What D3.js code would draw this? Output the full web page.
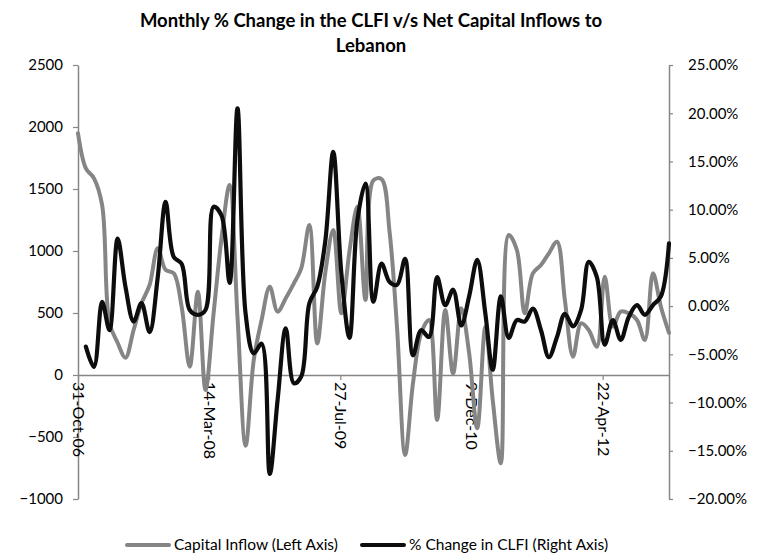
<!DOCTYPE html>
<html>
<head>
<meta charset="utf-8">
<script src="https://cdn.jsdelivr.net/npm/d3@7"></script>
<style>
  html, body { margin: 0; padding: 0; background: #fff; }
  svg { display: block; }
  text { font-family: "Lato", "Liberation Sans", sans-serif; fill: #000; }
</style>
</head>
<body>
<svg id="chart" width="758" height="554"></svg>
<script>
// ---------------- DATA ----------------
const titleLines = ["Monthly % Change in the CLFI v/s Net Capital Inflows to", "Lebanon"];
const firstMonthEnd = "2006-10-31";   // first observation (month-end)
const lastMonthEnd = "2012-12-31";    // last observation (month-end)

// Net capital inflows (left axis), month-ends Oct-2006 .. Dec-2012
const capitalInflow = [
  1950, 1667, 1586, 1370, 420, 260, 140, 363, 578, 726,
  1022, 847, 820, 551, 67, 672, -121, 500, 1100, 1532,
  470, -570, 121, 444, 712, 511, 618, 739, 860, 1210,
  255, 830, 1169, 497, 1000, 1357, 605, 1570, 1580, 1150,
  390, -645, -67, 336, 444, -363, 524, 13, 538, 177,
  -430, 390, -202, -712, 1129, 1008, 497, 820, 887, 981,
  1075, 605, 148, 417, 363, 228, 793, 390, 511, 497,
  444, 282, 820, 551, 340
];

// Monthly % change in CLFI (right axis, in %), month-ends Nov-2006 .. Dec-2012
const clfiChange = [
  -4.2, -6.3, 0.45, -2.5, 7.0, 2.0, -1.6, 0.3, -2.7, 3.0,
  10.8, 5.1, 4.4, -0.4, -0.9, -0.4, 10.3, 9.4, 2.4, 20.5,
  -0.8, -4.9, -3.9, -17.4, -9.7, -2.3, -8.0, -7.3, 0.3, 2.0,
  6.8, 16.0, 3.4, -3.3, 8.9, 12.7, 0.45, 4.4, 2.5, 2.2,
  4.9, -5.1, -2.5, -3.2, 3.0, 0.1, 1.7, -2.0, 1.0, 4.8,
  -0.8, -6.6, 1.0, -3.3, -1.45, -1.6, -0.25, -2.5, -5.3, -3.2,
  -0.8, -2.1, -0.4, 4.6, 3.0, -4.0, -1.45, -3.5, -1.1, 0.1,
  -0.9, 0.1, 1.0, 6.5
];

const leftTicks = [-1000, -500, 0, 500, 1000, 1500, 2000, 2500];
const rightTicks = [-20, -15, -10, -5, 0, 5, 10, 15, 20, 25];
const xTickDates = ["2006-10-31", "2008-03-14", "2009-07-27", "2010-12-09", "2012-04-22"];
const xTickLabels = ["31-Oct-06", "14-Mar-08", "27-Jul-09", "9-Dec-10", "22-Apr-12"];
const seriesNames = ["Capital Inflow (Left Axis)", "% Change in CLFI (Right Axis)"];

// ---------------- CHART ----------------
const parse = d3.timeParse("%Y-%m-%d");
const start = parse(firstMonthEnd);
// month-end dates for each observation
const monthEnds = capitalInflow.map((_, i) =>
  d3.timeDay.offset(d3.timeMonth.offset(new Date(2006, 10, 1), i), -1));

const svg = d3.select("#chart");
const axisColor = "#868686";
const grayColor = "#858585";

const plot = { left: 78, right: 669, top: 65, bottom: 499 };

const x = d3.scaleTime().domain([start, parse(lastMonthEnd)]).range([plot.left, plot.right]);
const yL = d3.scaleLinear().domain([-1000, 2500]).range([plot.bottom, plot.top]);
const yR = d3.scaleLinear().domain([-20, 25]).range([plot.bottom, plot.top]);

// Title
const title = svg.append("text")
  .attr("x", 371).attr("y", 27)
  .attr("text-anchor", "middle")
  .style("font-weight", "bold").style("font-size", "18.5px");
titleLines.forEach((t, i) => {
  title.append("tspan").attr("x", 371).attr("dy", i === 0 ? 0 : 25).text(t);
});

// Left axis
const gL = svg.append("g").attr("transform", `translate(${plot.left},0)`)
  .call(d3.axisLeft(yL).tickValues(leftTicks).tickSize(5).tickSizeOuter(0).tickPadding(10)
    .tickFormat(d3.format("d")));
// Right axis
const gR = svg.append("g").attr("transform", `translate(${plot.right},0)`)
  .call(d3.axisRight(yR).tickValues(rightTicks).tickSize(4).tickSizeOuter(0).tickPadding(15)
    .tickFormat(d => d3.format(".2f")(d) + "%"));
[gL, gR].forEach(g => {
  g.selectAll("path.domain").attr("stroke", axisColor).attr("stroke-width", 1.5);
  g.selectAll(".tick line").attr("stroke", axisColor).attr("stroke-width", 1.2);
  g.selectAll(".tick text").style("font-size", "15px").attr("fill", "#000");
});

// X axis at zero of left axis
const gX = svg.append("g").attr("transform", `translate(0,${yL(0)})`)
  .call(d3.axisBottom(x).tickValues(xTickDates.map(parse)).tickSize(5).tickSizeOuter(0)
    .tickFormat((d, i) => xTickLabels[i]));
gX.selectAll("path.domain").attr("stroke", axisColor).attr("stroke-width", 1.5);
gX.selectAll(".tick line").attr("stroke", axisColor).attr("stroke-width", 1.2);
gX.selectAll(".tick text")
  .style("font-size", "16px").attr("fill", "#000")
  .attr("text-anchor", "start")
  .attr("transform", "rotate(90)")
  .attr("x", 7).attr("y", 0).attr("dy", "0.35em");

// Lines
const curve = d3.curveCatmullRom.alpha(0.5);
const lineL = d3.line().x(d => x(d[0])).y(d => yL(d[1])).curve(curve);
const lineR = d3.line().x(d => x(d[0])).y(d => yR(d[1])).curve(curve);

svg.append("path")
  .datum(capitalInflow.map((v, i) => [monthEnds[i], v]))
  .attr("d", lineL).attr("fill", "none")
  .attr("stroke", grayColor).attr("stroke-width", 4).attr("stroke-linejoin", "round").attr("stroke-linecap", "round");

svg.append("path")
  .datum(clfiChange.map((v, i) => [monthEnds[i + 1], v]))
  .attr("d", lineR).attr("fill", "none")
  .attr("stroke", "#0d0d0d").attr("stroke-width", 4.2).attr("stroke-linejoin", "round").attr("stroke-linecap", "round");

// Legend
const legend = svg.append("g");
const legendItems = [
  { name: seriesNames[0], color: grayColor, x0: 127 },
  { name: seriesNames[1], color: "#0d0d0d", x0: 362 }
];
legendItems.forEach(it => {
  legend.append("line").attr("x1", it.x0).attr("x2", it.x0 + 42)
    .attr("y1", 545).attr("y2", 545)
    .attr("stroke", it.color).attr("stroke-width", 4).attr("stroke-linecap", "round");
  legend.append("text").attr("x", it.x0 + 47).attr("y", 550)
    .style("font-size", "15.5px").text(it.name);
});
</script>
</body>
</html>
